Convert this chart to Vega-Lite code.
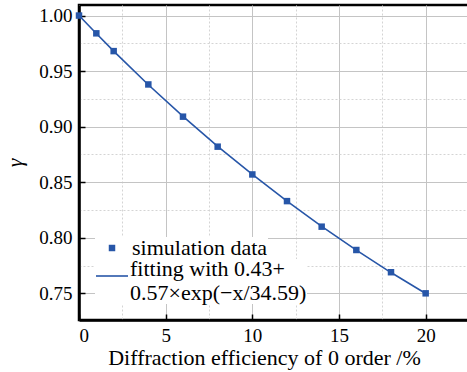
{
  "$schema": "https://vega.github.io/schema/vega-lite/v6.json",
  "autosize": {"type": "none"},
  "padding": {"left": 79, "top": 5, "right": 0, "bottom": 52},
  "width": 390,
  "height": 315,
  "background": "white",
  "view": {"stroke": "black", "strokeWidth": 2.5},
  "datasets": {
    "sim": [
      {"x": 0, "y": 1.000, "series": "simulation data"},
      {"x": 1, "y": 0.984, "series": "simulation data"},
      {"x": 2, "y": 0.968, "series": "simulation data"},
      {"x": 4, "y": 0.938, "series": "simulation data"},
      {"x": 6, "y": 0.909, "series": "simulation data"},
      {"x": 8, "y": 0.882, "series": "simulation data"},
      {"x": 10, "y": 0.857, "series": "simulation data"},
      {"x": 12, "y": 0.833, "series": "simulation data"},
      {"x": 14, "y": 0.810, "series": "simulation data"},
      {"x": 16, "y": 0.789, "series": "simulation data"},
      {"x": 18, "y": 0.769, "series": "simulation data"},
      {"x": 20, "y": 0.750, "series": "simulation data"}
    ],
    "fit": [
      {"x": 0, "y": 1.000, "series": "fit"},
      {"x": 1, "y": 0.9838, "series": "fit"},
      {"x": 2, "y": 0.9680, "series": "fit"},
      {"x": 4, "y": 0.9377, "series": "fit"},
      {"x": 6, "y": 0.9092, "series": "fit"},
      {"x": 8, "y": 0.8823, "series": "fit"},
      {"x": 10, "y": 0.8570, "series": "fit"},
      {"x": 12, "y": 0.8329, "series": "fit"},
      {"x": 14, "y": 0.8103, "series": "fit"},
      {"x": 16, "y": 0.7889, "series": "fit"},
      {"x": 18, "y": 0.7687, "series": "fit"},
      {"x": 20, "y": 0.7498, "series": "fit"}
    ]
  },
  "layer": [
    {
      "data": {"name": "sim"},
      "mark": {"type": "point", "filled": true, "opacity": 1, "shape": "square", "size": 42},
      "encoding": {
        "x": {
          "field": "x", "type": "quantitative",
          "scale": {"domain": [0, 22.5], "nice": false, "zero": false},
          "axis": {
            "orient": "bottom", "values": [0, 5, 10, 15, 20], "format": "d",
            "grid": true, "gridColor": "#c4c4c4", "gridWidth": 1,
            "domainColor": "black", "domainWidth": 2.5,
            "ticks": true, "tickSize": -6, "tickColor": "black", "tickWidth": 1.5,
            "labelPadding": 12, "labelFont": "Liberation Serif", "labelFontSize": 19, "labelColor": "black",
            "title": "Diffraction efficiency of 0 order /%",
            "titleFont": "Liberation Serif", "titleFontSize": 22, "titleFontWeight": "normal", "titleColor": "black",
            "titleAnchor": "middle", "titleX": 185,
            "titlePadding": 2
          }
        },
        "y": {
          "field": "y", "type": "quantitative",
          "scale": {"domain": [0.726, 1.0095], "nice": false, "zero": false},
          "axis": {
            "orient": "left", "values": [0.75, 0.8, 0.85, 0.9, 0.95, 1.0], "format": ".2f",
            "grid": true, "gridColor": "#c4c4c4", "gridWidth": 1,
            "domainColor": "black", "domainWidth": 2.5,
            "ticks": true, "tickSize": -6, "tickColor": "black", "tickWidth": 1.5,
            "labelPadding": 13, "labelFont": "Liberation Serif", "labelFontSize": 19, "labelColor": "black",
            "title": "γ",
            "titleFont": "Liberation Serif", "titleFontSize": 22, "titleFontWeight": "normal", "titleColor": "black",
            "titleFontStyle": "italic",
            "titlePadding": 12
          }
        },
        "color": {
          "field": "series", "type": "nominal",
          "scale": {"domain": ["simulation data"], "range": ["#2756a8"]},
          "legend": {
            "symbolSize": 42,
            "symbolOffset": 6,
            "labelOffset": 9,
            "labelBaseline": "middle"
          }
        }
      }
    },
    {
      "data": {"name": "fit"},
      "mark": {"type": "line", "strokeWidth": 1.6},
      "encoding": {
        "x": {
          "field": "x", "type": "quantitative",
          "axis": {
            "orient": "bottom", "values": [2.5, 7.5, 12.5, 17.5],
            "grid": true, "gridColor": "#d4d4d4", "gridDash": [2, 2], "gridWidth": 1,
            "labels": false, "ticks": false, "domain": false, "title": null
          }
        },
        "y": {
          "field": "y", "type": "quantitative",
          "axis": {
            "orient": "left", "values": [0.725, 0.775, 0.825, 0.875, 0.925, 0.975],
            "grid": true, "gridColor": "#d4d4d4", "gridDash": [2, 2], "gridWidth": 1,
            "labels": false, "ticks": false, "domain": false, "title": null
          }
        },
        "stroke": {
          "field": "series", "type": "nominal",
          "scale": {"domain": ["fit"], "range": ["#2756a8"]},
          "legend": {
            "symbolSize": 1024,
            "symbolStrokeWidth": 1.6,
            "symbolType": "stroke",
            "labelOffset": 1,
            "labelBaseline": "alphabetic",
            "labelExpr": "['fitting with 0.43+', '0.57×exp(−x/34.59)']",
            "encode": {"labels": {"dy": {"value": 7}}}
          }
        }
      }
    }
  ],
  "resolve": {"axis": {"x": "independent", "y": "independent"}},
  "config": {
    "legend": {
      "title": null,
      "orient": "bottom-left",
      "offset": 16,
      "padding": 0,
      "fillColor": "white",
      "labelFont": "Liberation Serif",
      "labelFontSize": 22,
      "labelColor": "black",
      "labelLimit": 400,
      "rowPadding": 0,
      "layout": {"direction": "vertical", "margin": 0}
    }
  }
}
